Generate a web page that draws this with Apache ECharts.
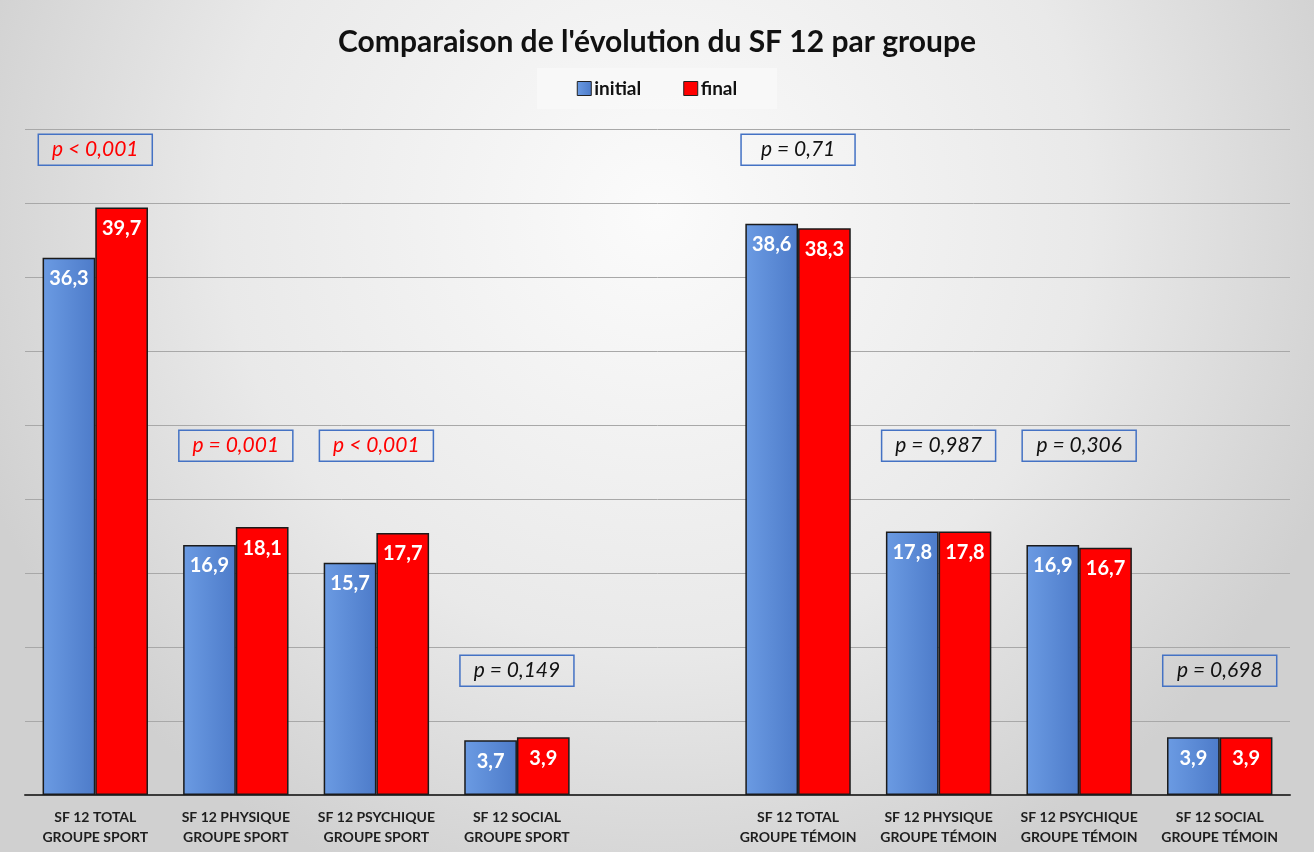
<!DOCTYPE html>
<html>
<head>
<meta charset="utf-8">
<script src="https://cdn.jsdelivr.net/npm/echarts@6/dist/echarts.min.js"></script>
<style>
  html, body { margin: 0; padding: 0; background: #fff; }
  #chart { width: 1314px; height: 852px; }
</style>
</head>
<body>
<div id="chart"></div>
<script>
// categories (empty slot separates the two groups)
const categories = [
  'SF 12 TOTAL\nGROUPE SPORT',
  'SF 12 PHYSIQUE\nGROUPE SPORT',
  'SF 12 PSYCHIQUE\nGROUPE SPORT',
  'SF 12 SOCIAL\nGROUPE SPORT',
  '',
  'SF 12 TOTAL\nGROUPE TÉMOIN',
  'SF 12 PHYSIQUE\nGROUPE TÉMOIN',
  'SF 12 PSYCHIQUE\nGROUPE TÉMOIN',
  'SF 12 SOCIAL\nGROUPE TÉMOIN',
];
const initialValues = [36.3, 16.9, 15.7, 3.7, '-', 38.6, 17.8, 16.9, 3.9];
const finalValues = [39.7, 18.1, 17.7, 3.9, '-', 38.3, 17.8, 16.7, 3.9];
// p-value annotations: text, height (in axis units) where the box sits, significant or not
const pTexts = ['p < 0,001', 'p = 0,001', 'p < 0,001', 'p = 0,149', '', 'p = 0,71', 'p = 0,987', 'p = 0,306', 'p = 0,698'];
const pLevels = [43.6, 23.6, 23.6, 8.4, '-', 43.6, 23.6, 23.6, 8.4];
const pSignificant = [true, true, true, false, false, false, false, false, false];

const fontFamily = 'Lato, "Open Sans", "Noto Sans", sans-serif';

const myChart = echarts.init(document.getElementById('chart'));

const valueLabel = {
  show: true,
  position: 'insideTop',
  distance: 11,
  color: '#fff',
  fontFamily,
  fontWeight: 'bold',
  fontSize: 20,
  formatter: (p) => String(p.value).replace('.', ','),
};

const pData = pLevels.map((v, i) => ({
  value: [i, v],
  label: { color: pSignificant[i] ? '#ff0000' : '#111111' },
}));

const option = {
  backgroundColor: {
    type: 'radial',
    x: 0.5,
    y: 0.25,
    r: 0.85,
    colorStops: [
      { offset: 0, color: '#fbfbfb' },
      { offset: 0.6, color: '#e9e9e9' },
      { offset: 1, color: '#d0d0d0' },
    ],
  },
  textStyle: { fontFamily },
  title: {
    text: "Comparaison de l'évolution du SF 12 par groupe",
    left: 'center',
    top: 22,
    textStyle: {
      fontFamily,
      fontSize: 30,
      fontWeight: 'bold',
      color: '#111',
    },
  },
  legend: {
    top: 68,
    left: 'center',
    backgroundColor: 'rgba(248,248,248,0.9)',
    padding: [11, 40, 11, 40],
    itemGap: 42,
    itemWidth: 14,
    itemHeight: 14,
    textStyle: { fontFamily, fontSize: 19, fontWeight: 'bold', color: '#111', padding: [0, 0, 0, -2] },
    data: [
      { name: 'initial', icon: 'rect', itemStyle: { borderColor: '#222', borderWidth: 1 } },
      { name: 'final', icon: 'rect', itemStyle: { borderColor: '#222', borderWidth: 1 } },
    ],
  },
  grid: {
    left: 25,
    right: 24,
    top: 129,
    bottom: 57,
  },
  xAxis: {
    type: 'category',
    data: categories,
    axisTick: { show: false },
    axisLine: { lineStyle: { color: '#3a3a3a', width: 2 } },
    axisLabel: {
      interval: 0,
      margin: 12,
      color: '#1e1e1e',
      fontFamily,
      fontWeight: 'bold',
      fontSize: 14,
      lineHeight: 20,
    },
  },
  yAxis: {
    type: 'value',
    min: 0,
    max: 45,
    interval: 5,
    axisLabel: { show: false },
    axisLine: { show: false },
    axisTick: { show: false },
    splitLine: { lineStyle: { color: '#a8a8a8', width: 1 } },
  },
  series: [
    {
      name: 'initial',
      type: 'bar',
      barGap: '0%',
      barCategoryGap: '25%',
      data: initialValues,
      itemStyle: {
        color: {
          type: 'linear', x: 0, y: 0, x2: 1, y2: 0,
          colorStops: [
            { offset: 0, color: '#6b9be3' },
            { offset: 1, color: '#4d7bc9' },
          ],
        },
        borderColor: '#1b1b1b',
        borderWidth: 1.5,
      },
      label: valueLabel,
    },
    {
      name: 'final',
      type: 'bar',
      data: finalValues,
      itemStyle: {
        color: '#ff0000',
        borderColor: '#1b1b1b',
        borderWidth: 1.5,
      },
      label: valueLabel,
    },
    {
      name: 'p',
      type: 'scatter',
      symbolSize: 0,
      silent: true,
      itemStyle: { opacity: 1 },
      data: pData,
      label: {
        show: true,
        position: 'inside',
        formatter: (p) => pTexts[p.dataIndex],
        fontFamily,
        fontStyle: 'italic',
        fontSize: 21,
        width: 114,
        height: 31,
        lineHeight: 31,
        align: 'center',
        verticalAlign: 'middle',
        borderColor: '#4472c4',
        borderWidth: 1.5,
        padding: 0,
      },
    },
  ],
};

myChart.setOption(option);
</script>
</body>
</html>
